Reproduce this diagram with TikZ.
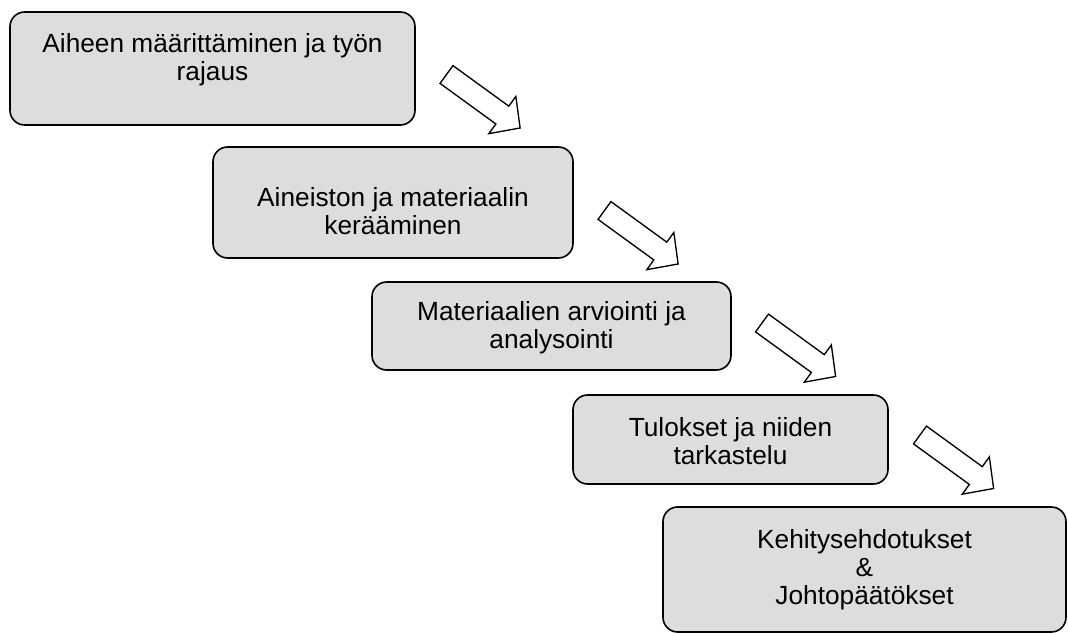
\documentclass[tikz,border=0pt]{standalone}
\usepackage{fontspec}
\setmainfont{Liberation Sans}
\usetikzlibrary{fit}
\definecolor{boxgray}{RGB}{221,221,221}
\begin{document}
\begin{tikzpicture}[x=0.75pt,y=-0.75pt,
  box/.style={draw=black, line width=1.2pt, fill=boxgray, rounded corners=11pt, inner sep=0pt},
  txt/.style={align=center, inner sep=0pt, font=\fontsize{19.7}{21}\selectfont},
  blockarrow/.style={draw=black, line width=1pt, fill=white, line join=miter}]
\useasboundingbox (0,0) rectangle (1068,634);
% boxes
\node[box, fit={(10,12)(415,125)}] (b1) {};
\node[box, fit={(213,147)(573,258)}] (b2) {};
\node[box, fit={(372,282)(731,370)}] (b3) {};
\node[box, fit={(573,395)(888,484)}] (b4) {};
\node[box, fit={(663,507)(1066,632)}] (b5) {};
% texts
\node[txt] (t1) at (212.5,60) {Aiheen määrittäminen ja työn\\rajaus};
\node[txt] (t2) at (b2.center |- 0,211) {Aineiston ja materiaalin\\kerääminen};
\node[txt] (t3) at (b3.center |- 0,328) {Materiaalien arviointi ja\\analysointi};
\node[txt] (t4) at (b4.center |- 0,441) {Tulokset ja niiden\\tarkastelu};
\node[txt] (t5) at (b5.center |- 0,570) {Kehitysehdotukset\\\&\\Johtopäätökset};
% block arrows
\coordinate (a1) at (446.5,74.5);
\coordinate (a2) at (604.5,210.5);
\coordinate (a3) at (762,323);
\coordinate (a4) at (920,435);
\foreach \a in {a1,a2,a3,a4}{
  \draw[blockarrow, shift={(\a)}, rotate=-36]
    (0,-11) -- (69,-11) -- (69,-23) -- (91,0) -- (69,23) -- (69,11) -- (0,11) -- cycle;
}
\end{tikzpicture}
\end{document}
